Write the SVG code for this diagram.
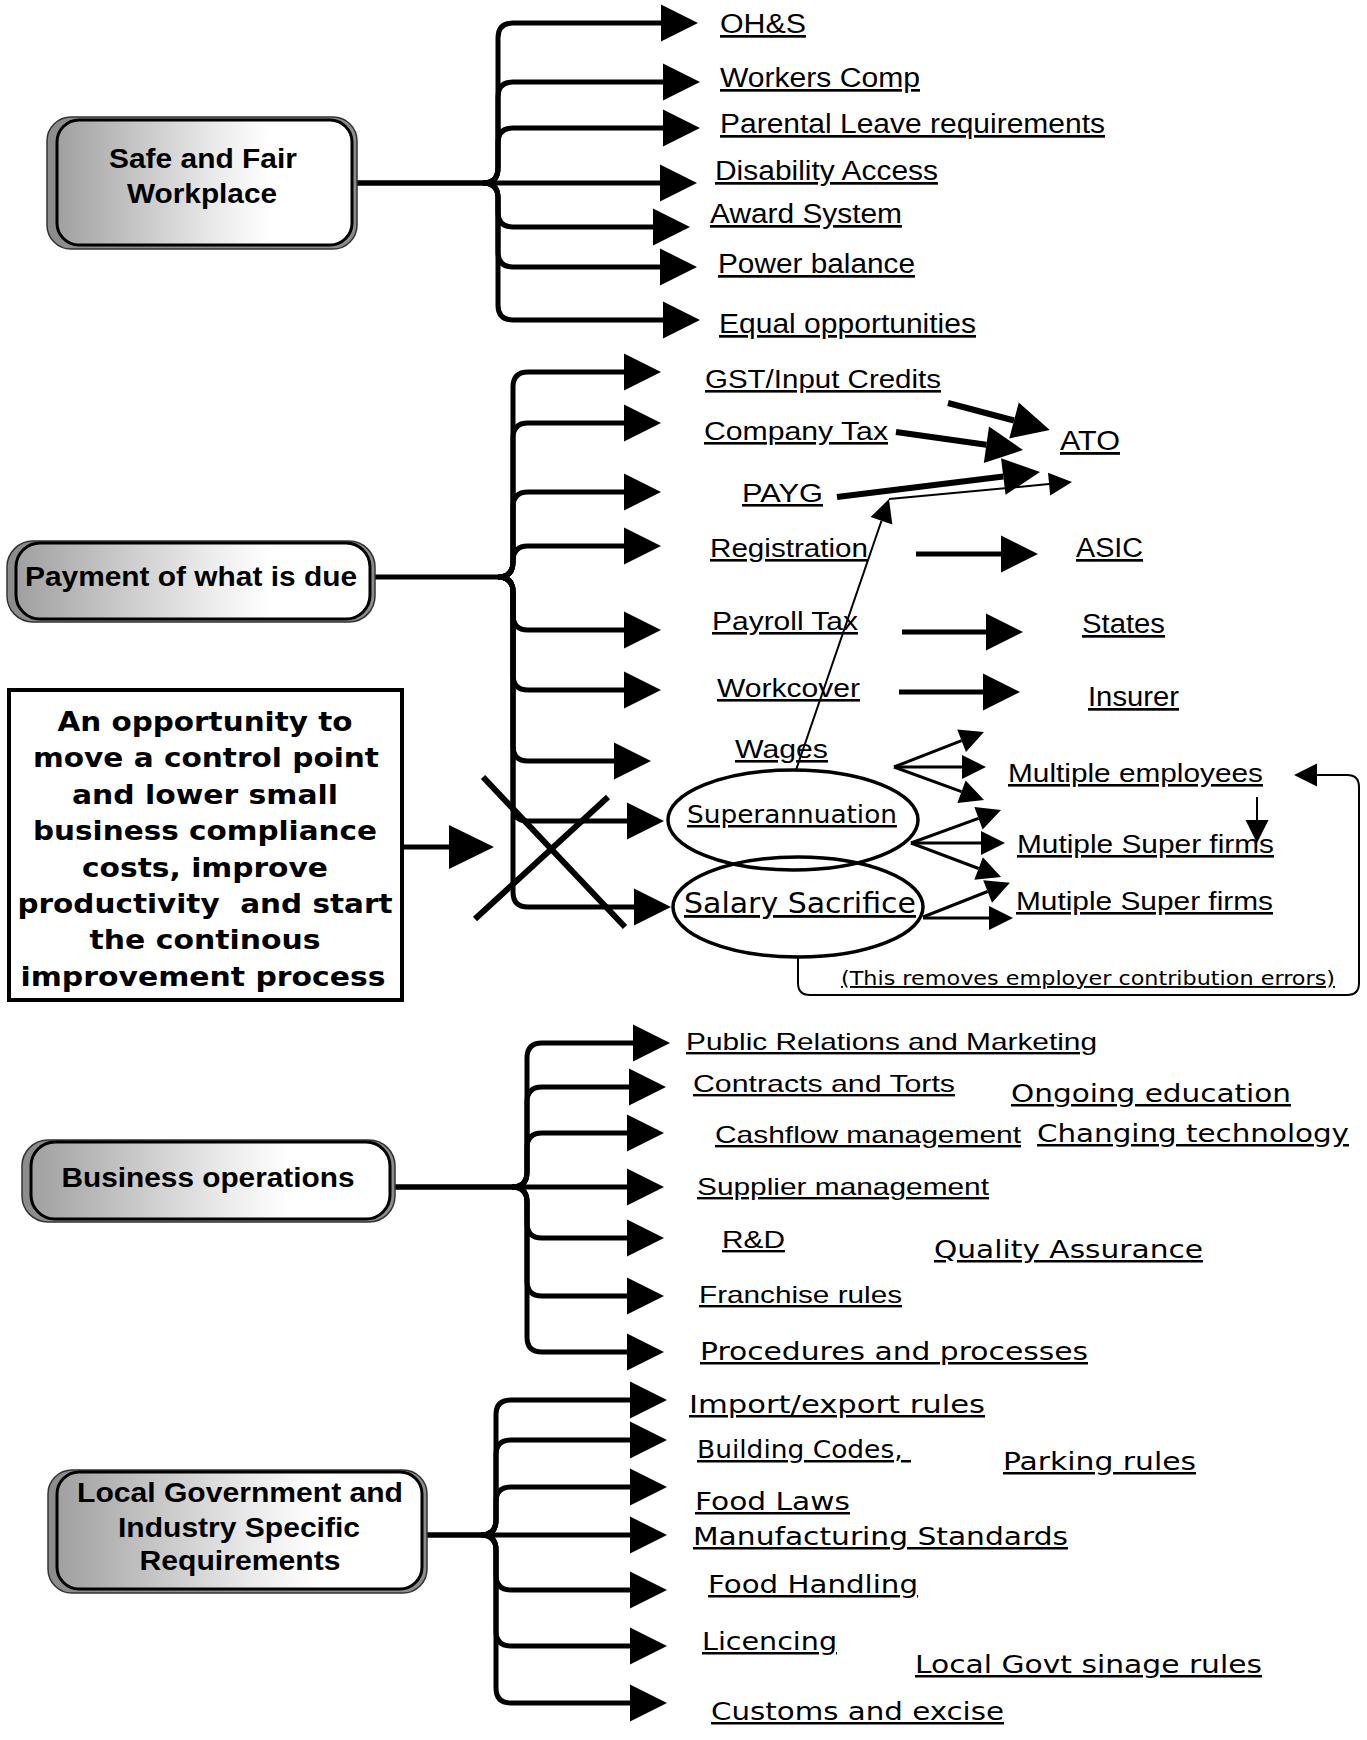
<svg xmlns="http://www.w3.org/2000/svg" width="1367" height="1740" viewBox="0 0 1367 1740">
<style>
.ln{fill:none;stroke:#000;stroke-width:5}
.ln6{fill:none;stroke:#000;stroke-width:6}
.md{fill:none;stroke:#000;stroke-width:3}
.th{fill:none;stroke:#000;stroke-width:2}
.a{font-family:"Liberation Sans",Arial,sans-serif;text-decoration:underline;fill:#000}
.v{font-family:"DejaVu Sans",Verdana,sans-serif;text-decoration:underline;fill:#000}
.hb{font-family:"Liberation Sans",Arial,sans-serif;font-weight:bold;text-anchor:middle;font-size:27px;fill:#000}
.ob{font-family:"DejaVu Sans",Verdana,sans-serif;font-weight:bold;text-anchor:middle;font-size:26px;fill:#000;white-space:pre}
.back{fill:#8c8c8c;stroke:#333;stroke-width:1.5}
.face{fill:url(#face);stroke:#000;stroke-width:3}
.ell{fill:none;stroke:#000;stroke-width:3.5}
</style>
<defs>
<linearGradient id="face" x1="0" y1="0" x2="1" y2="0">
<stop offset="0" stop-color="#a0a0a0"/>
<stop offset="0.3" stop-color="#cacaca"/>
<stop offset="0.55" stop-color="#ececec"/>
<stop offset="0.72" stop-color="#ffffff"/>
</linearGradient>
<marker id="big" markerUnits="userSpaceOnUse" markerWidth="38" markerHeight="38" refX="0" refY="18.5" orient="auto" overflow="visible"><path d="M0,0 L37,18.5 L0,37 Z" fill="#000"/></marker>
<marker id="xl" markerUnits="userSpaceOnUse" markerWidth="46" markerHeight="46" refX="0" refY="22" orient="auto" overflow="visible"><path d="M0,0 L45,22 L0,44 Z" fill="#000"/></marker>
<marker id="mdh" markerUnits="userSpaceOnUse" markerWidth="25" markerHeight="25" refX="0" refY="12" orient="auto" overflow="visible"><path d="M0,0 L24,12 L0,24 Z" fill="#000"/></marker>
<marker id="sm" markerUnits="userSpaceOnUse" markerWidth="24" markerHeight="24" refX="0" refY="11.5" orient="auto" overflow="visible"><path d="M0,0 L23,11.5 L0,23 Z" fill="#000"/></marker>
</defs>
<rect width="1367" height="1740" fill="#fff"/>

<g id="connectors">
<path class="ln" marker-end="url(#big)" d="M357,183 H483 Q498,183 498,168 V38 Q498,23 513,23 H661"/>
<path class="ln" marker-end="url(#big)" d="M483,183 Q498,183 498,168 V97 Q498,82 513,82 H663"/>
<path class="ln" marker-end="url(#big)" d="M483,183 Q498,183 498,168 V143 Q498,128 513,128 H663"/>
<path class="ln" marker-end="url(#big)" d="M357,183 H660"/>
<path class="ln" marker-end="url(#big)" d="M483,183 Q498,183 498,198 V212 Q498,227 513,227 H653"/>
<path class="ln" marker-end="url(#big)" d="M483,183 Q498,183 498,198 V252 Q498,267 513,267 H660"/>
<path class="ln" marker-end="url(#big)" d="M483,183 Q498,183 498,198 V305 Q498,320 513,320 H663"/>
<path class="ln" marker-end="url(#big)" d="M375,577 H498 Q513,577 513,562 V387 Q513,372 528,372 H624"/>
<path class="ln" marker-end="url(#big)" d="M498,577 Q513,577 513,562 V438 Q513,423 528,423 H624"/>
<path class="ln" marker-end="url(#big)" d="M498,577 Q513,577 513,562 V507 Q513,492 528,492 H624"/>
<path class="ln" marker-end="url(#big)" d="M498,577 Q513,577 513,562 V561 Q513,546 528,546 H624"/>
<path class="ln" marker-end="url(#big)" d="M498,577 Q513,577 513,592 V615 Q513,630 528,630 H624"/>
<path class="ln" marker-end="url(#big)" d="M498,577 Q513,577 513,592 V675 Q513,690 528,690 H624"/>
<path class="ln" marker-end="url(#big)" d="M498,577 Q513,577 513,592 V746 Q513,761 528,761 H614"/>
<path class="ln" marker-end="url(#big)" d="M498,577 Q513,577 513,592 V806 Q513,821 528,821 H627"/>
<path class="ln" marker-end="url(#big)" d="M498,577 Q513,577 513,592 V892 Q513,907 528,907 H634"/>
<path class="ln6" d="M483,777 L625,927"/>
<path class="ln6" d="M475,919 L608,797"/>
<path class="ln" marker-end="url(#xl)" d="M402,847 H449"/>
<path class="ln6" marker-end="url(#big)" d="M948,403 L1014,420.5"/>
<path class="ln6" marker-end="url(#big)" d="M896,432 L986.4,444.8"/>
<path class="ln6" marker-end="url(#big)" d="M837,497 L1003.3,476.5"/>
<path class="ln" marker-end="url(#big)" d="M916,554 H1001"/>
<path class="ln" marker-end="url(#big)" d="M902,632 H986"/>
<path class="ln" marker-end="url(#big)" d="M899,692 H983"/>
<path class="th" marker-end="url(#sm)" d="M796,770 L881.5,520.8"/>
<path class="th" marker-end="url(#sm)" d="M889,499 L1049.1,484.1"/>
<path class="md" marker-end="url(#mdh)" d="M894,767 L961.6,740.7"/>
<path class="md" marker-end="url(#mdh)" d="M894,767 H962"/>
<path class="md" marker-end="url(#mdh)" d="M894,767 L961.5,791.7"/>
<path class="md" marker-end="url(#mdh)" d="M911,843 L978.5,818.3"/>
<path class="md" marker-end="url(#mdh)" d="M911,843 H981"/>
<path class="md" marker-end="url(#mdh)" d="M911,843 L978.6,868.5"/>
<path class="md" marker-end="url(#mdh)" d="M923,917 L987.6,891.5"/>
<path class="md" marker-end="url(#mdh)" d="M923,918 H989"/>
<path class="th" marker-end="url(#sm)" d="M1257,797 V820"/>
<path class="th" marker-end="url(#sm)" d="M798,957 V983 Q798,995 810,995 H1347 Q1359,995 1359,983 V787 Q1359,775 1347,775 H1317"/>
<path class="ln" marker-end="url(#big)" d="M395,1187 H512 Q527,1187 527,1172 V1058 Q527,1043 542,1043 H633"/>
<path class="ln" marker-end="url(#big)" d="M512,1187 Q527,1187 527,1172 V1102 Q527,1087 542,1087 H629"/>
<path class="ln" marker-end="url(#big)" d="M512,1187 Q527,1187 527,1172 V1148 Q527,1133 542,1133 H627"/>
<path class="ln" marker-end="url(#big)" d="M395,1187 H627"/>
<path class="ln" marker-end="url(#big)" d="M512,1187 Q527,1187 527,1202 V1223 Q527,1238 542,1238 H627"/>
<path class="ln" marker-end="url(#big)" d="M512,1187 Q527,1187 527,1202 V1281 Q527,1296 542,1296 H627"/>
<path class="ln" marker-end="url(#big)" d="M512,1187 Q527,1187 527,1202 V1337 Q527,1352 542,1352 H627"/>
<path class="ln" marker-end="url(#big)" d="M427,1535 H481 Q496,1535 496,1520 V1415 Q496,1400 511,1400 H630"/>
<path class="ln" marker-end="url(#big)" d="M481,1535 Q496,1535 496,1520 V1455 Q496,1440 511,1440 H630"/>
<path class="ln" marker-end="url(#big)" d="M481,1535 Q496,1535 496,1520 V1502 Q496,1487 511,1487 H630"/>
<path class="ln" marker-end="url(#big)" d="M427,1535 H630"/>
<path class="ln" marker-end="url(#big)" d="M481,1535 Q496,1535 496,1550 V1575 Q496,1590 511,1590 H630"/>
<path class="ln" marker-end="url(#big)" d="M481,1535 Q496,1535 496,1550 V1631 Q496,1646 511,1646 H630"/>
<path class="ln" marker-end="url(#big)" d="M481,1535 Q496,1535 496,1550 V1688 Q496,1703 511,1703 H630"/>
</g>

<g id="n-safe">
<rect class="back" x="47" y="117" width="310" height="132" rx="24"/>
<rect class="face" x="57" y="120" width="295" height="125" rx="22"/>
<text class="hb" x="203" y="168" textLength="188" lengthAdjust="spacingAndGlyphs">Safe and Fair</text>
<text class="hb" x="202" y="203" textLength="150" lengthAdjust="spacingAndGlyphs">Workplace</text>
</g>
<g id="n-payment">
<rect class="back" x="7" y="541" width="368" height="81" rx="26"/>
<rect class="face" x="16" y="543" width="354" height="76" rx="24"/>
<text class="hb" x="191" y="586" textLength="332" lengthAdjust="spacingAndGlyphs">Payment of what is due</text>
</g>
<g id="n-opportunity">
<rect x="9" y="690" width="393" height="310" fill="#fff" stroke="#000" stroke-width="4"/>
<text class="ob" x="205" y="731" textLength="295" lengthAdjust="spacingAndGlyphs">An opportunity to</text>
<text class="ob" x="206" y="767" textLength="346" lengthAdjust="spacingAndGlyphs">move a control point</text>
<text class="ob" x="205" y="804" textLength="266" lengthAdjust="spacingAndGlyphs">and lower small</text>
<text class="ob" x="205" y="840" textLength="344" lengthAdjust="spacingAndGlyphs">business compliance</text>
<text class="ob" x="205" y="877" textLength="246" lengthAdjust="spacingAndGlyphs">costs, improve</text>
<text class="ob" x="205" y="913" textLength="375" lengthAdjust="spacingAndGlyphs" xml:space="preserve">productivity  and start</text>
<text class="ob" x="205" y="949" textLength="231" lengthAdjust="spacingAndGlyphs">the continous</text>
<text class="ob" x="203" y="986" textLength="365" lengthAdjust="spacingAndGlyphs">improvement process</text>
</g>
<g id="n-business">
<rect class="back" x="22" y="1140" width="373" height="82" rx="26"/>
<rect class="face" x="31" y="1142" width="359" height="77" rx="24"/>
<text class="hb" x="208" y="1187" textLength="293" lengthAdjust="spacingAndGlyphs">Business operations</text>
</g>
<g id="n-localgov">
<rect class="back" x="48" y="1470" width="379" height="123" rx="24"/>
<rect class="face" x="57" y="1472" width="365" height="117" rx="22"/>
<text class="hb" x="240" y="1502" textLength="326" lengthAdjust="spacingAndGlyphs">Local Government and</text>
<text class="hb" x="239" y="1537" textLength="242" lengthAdjust="spacingAndGlyphs">Industry Specific</text>
<text class="hb" x="240" y="1570" textLength="201" lengthAdjust="spacingAndGlyphs">Requirements</text>
</g>

<g id="n-ohs"><text class="a" font-size="27" x="720" y="33" textLength="86" lengthAdjust="spacingAndGlyphs">OH&amp;S</text></g>
<g id="n-workers"><text class="a" font-size="27" x="720" y="87" textLength="200" lengthAdjust="spacingAndGlyphs">Workers Comp</text></g>
<g id="n-parental"><text class="a" font-size="27" x="720" y="133" textLength="385" lengthAdjust="spacingAndGlyphs">Parental Leave requirements</text></g>
<g id="n-disability"><text class="a" font-size="27" x="715" y="180" textLength="223" lengthAdjust="spacingAndGlyphs">Disability Access</text></g>
<g id="n-award"><text class="a" font-size="27" x="710" y="223" textLength="192" lengthAdjust="spacingAndGlyphs">Award System</text></g>
<g id="n-power"><text class="a" font-size="27" x="718" y="273" textLength="197" lengthAdjust="spacingAndGlyphs">Power balance</text></g>
<g id="n-equal"><text class="a" font-size="27" x="719" y="333" textLength="257" lengthAdjust="spacingAndGlyphs">Equal opportunities</text></g>

<g id="n-gst"><text class="a" font-size="26" x="705" y="388" textLength="236" lengthAdjust="spacingAndGlyphs">GST/Input Credits</text></g>
<g id="n-company"><text class="a" font-size="26" x="704" y="440" textLength="184" lengthAdjust="spacingAndGlyphs">Company Tax</text></g>
<g id="n-payg"><text class="a" font-size="26" x="742" y="502" textLength="81" lengthAdjust="spacingAndGlyphs">PAYG</text></g>
<g id="n-registration"><text class="a" font-size="26" x="710" y="557" textLength="158" lengthAdjust="spacingAndGlyphs">Registration</text></g>
<g id="n-payroll"><text class="a" font-size="26" x="712" y="630" textLength="146" lengthAdjust="spacingAndGlyphs">Payroll Tax</text></g>
<g id="n-workcover"><text class="a" font-size="26" x="717" y="697" textLength="143" lengthAdjust="spacingAndGlyphs">Workcover</text></g>
<g id="n-wages"><text class="a" font-size="26" x="735" y="758" textLength="93" lengthAdjust="spacingAndGlyphs">Wages</text></g>
<g id="n-ato"><text class="a" font-size="28" x="1060" y="450" textLength="60" lengthAdjust="spacingAndGlyphs">ATO</text></g>
<g id="n-asic"><text class="a" font-size="27" x="1076" y="557" textLength="67" lengthAdjust="spacingAndGlyphs">ASIC</text></g>
<g id="n-states"><text class="a" font-size="27" x="1082" y="633" textLength="83" lengthAdjust="spacingAndGlyphs">States</text></g>
<g id="n-insurer"><text class="a" font-size="27" x="1088" y="706" textLength="91" lengthAdjust="spacingAndGlyphs">Insurer</text></g>
<g id="n-super">
<ellipse class="ell" cx="793" cy="820" rx="125" ry="50"/>
<text class="v" font-size="25" x="687" y="823" textLength="210" lengthAdjust="spacingAndGlyphs">Superannuation</text>
</g>
<g id="n-salary">
<ellipse class="ell" cx="798" cy="907" rx="125" ry="50"/>
<text class="v" font-size="28" x="684" y="913" textLength="232" lengthAdjust="spacingAndGlyphs">Salary Sacrifice</text>
</g>
<g id="n-multemp"><text class="a" font-size="26" x="1008" y="782" textLength="255" lengthAdjust="spacingAndGlyphs">Multiple employees</text></g>
<g id="n-mutsuper1"><text class="a" font-size="26" x="1017" y="853" textLength="257" lengthAdjust="spacingAndGlyphs">Mutiple Super firms</text></g>
<g id="n-mutsuper2"><text class="a" font-size="26" x="1016" y="910" textLength="257" lengthAdjust="spacingAndGlyphs">Mutiple Super firms</text></g>
<g id="n-note"><text class="v" font-size="19" x="841" y="985" textLength="494" lengthAdjust="spacingAndGlyphs">(This removes employer contribution errors)</text></g>

<g id="n-pr"><text class="a" font-size="24" x="686" y="1050" textLength="411" lengthAdjust="spacingAndGlyphs">Public Relations and Marketing</text></g>
<g id="n-contracts"><text class="a" font-size="24" x="693" y="1092" textLength="262" lengthAdjust="spacingAndGlyphs">Contracts and Torts</text></g>
<g id="n-cashflow"><text class="a" font-size="24" x="715" y="1143" textLength="306" lengthAdjust="spacingAndGlyphs">Cashflow management</text></g>
<g id="n-supplier"><text class="a" font-size="24" x="697" y="1195" textLength="292" lengthAdjust="spacingAndGlyphs">Supplier management</text></g>
<g id="n-rd"><text class="a" font-size="24" x="722" y="1248" textLength="63" lengthAdjust="spacingAndGlyphs">R&amp;D</text></g>
<g id="n-franchise"><text class="a" font-size="24" x="699" y="1303" textLength="203" lengthAdjust="spacingAndGlyphs">Franchise rules</text></g>
<g id="n-procedures"><text class="v" font-size="25" x="700" y="1360" textLength="388" lengthAdjust="spacingAndGlyphs">Procedures and processes</text></g>
<g id="n-ongoing"><text class="v" font-size="25" x="1011" y="1102" textLength="280" lengthAdjust="spacingAndGlyphs">Ongoing education</text></g>
<g id="n-changing"><text class="v" font-size="25" x="1037" y="1142" textLength="312" lengthAdjust="spacingAndGlyphs">Changing technology</text></g>
<g id="n-quality"><text class="v" font-size="25" x="934" y="1258" textLength="269" lengthAdjust="spacingAndGlyphs">Quality Assurance</text></g>

<g id="n-import"><text class="v" font-size="25" x="689" y="1413" textLength="296" lengthAdjust="spacingAndGlyphs">Import/export rules</text></g>
<g id="n-building"><text class="v" font-size="25" x="697" y="1458" textLength="214" lengthAdjust="spacingAndGlyphs" xml:space="preserve">Building Codes, </text></g>
<g id="n-parking"><text class="v" font-size="25" x="1003" y="1470" textLength="193" lengthAdjust="spacingAndGlyphs">Parking rules</text></g>
<g id="n-foodlaws"><text class="v" font-size="25" x="695" y="1510" textLength="155" lengthAdjust="spacingAndGlyphs">Food Laws</text></g>
<g id="n-manufacturing"><text class="v" font-size="25" x="693" y="1545" textLength="375" lengthAdjust="spacingAndGlyphs">Manufacturing Standards</text></g>
<g id="n-foodhandling"><text class="v" font-size="25" x="708" y="1593" textLength="210" lengthAdjust="spacingAndGlyphs">Food Handling</text></g>
<g id="n-licencing"><text class="v" font-size="25" x="702" y="1650" textLength="135" lengthAdjust="spacingAndGlyphs">Licencing</text></g>
<g id="n-signage"><text class="v" font-size="25" x="915" y="1673" textLength="347" lengthAdjust="spacingAndGlyphs">Local Govt sinage rules</text></g>
<g id="n-customs"><text class="v" font-size="25" x="711" y="1720" textLength="293" lengthAdjust="spacingAndGlyphs">Customs and excise</text></g>
</svg>
